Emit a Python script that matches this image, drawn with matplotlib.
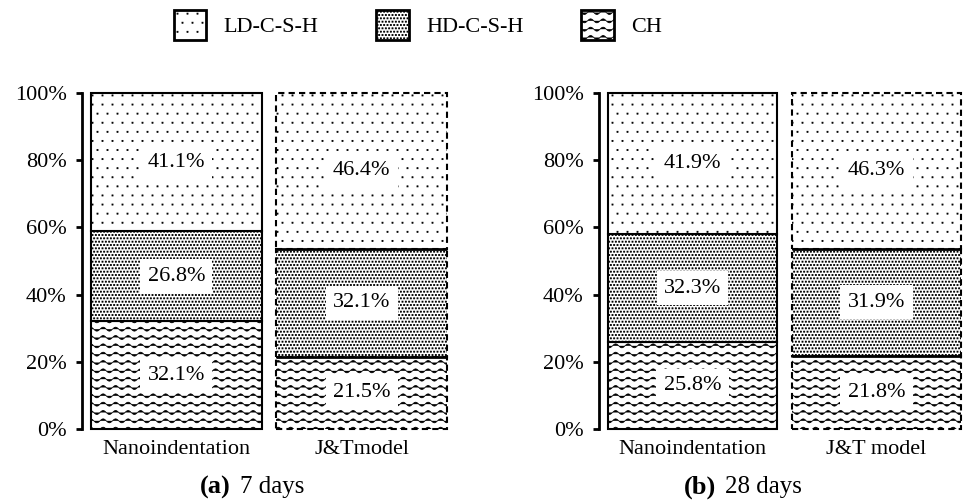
import warnings
import numpy as np
import matplotlib
matplotlib.use('Agg')
import matplotlib.pyplot as plt
import matplotlib.hatch as mhatch
from matplotlib.path import Path
from matplotlib.patches import Patch

warnings.filterwarnings('ignore')

# data (percent of each phase)
phases = ['LD-C-S-H', 'HD-C-S-H', 'CH']
labels_a = ['Nanoindentation', 'J&Tmodel']
labels_b = ['Nanoindentation', 'J&T model']
ch_7 = [32.1, 21.5]
hd_7 = [26.8, 32.1]
ld_7 = [41.1, 46.4]
ch_28 = [25.8, 21.8]
hd_28 = [32.3, 31.9]
ld_28 = [41.9, 46.3]
yticks = [0, 20, 40, 60, 80, 100]
ytick_labels = ['0%', '20%', '40%', '60%', '80%', '100%']

hatch_ld = ':'
hatch_hd = ';'
hatch_ch = '~~'


# custom hatches: sparse dots, dense dots, waves
class DotHatch(mhatch.HatchPatternBase):
    char = ':'
    rows = 11
    cols = 10
    size = 0.011

    def __init__(self, hatch, density):
        self.on = hatch.count(self.char) > 0
        self.num_vertices = self.rows * self.cols * 5 if self.on else 0

    def set_vertices_and_codes(self, vertices, codes):
        s = self.size / 2
        k = 0
        for i in range(self.rows):
            y = (i + 0.5) / self.rows
            for j in range(self.cols):
                x = (j + 0.25 + 0.5 * (i % 2)) / self.cols
                vertices[k:k + 5] = [[x - s, y - s], [x + s, y - s], [x + s, y + s],
                                     [x - s, y + s], [x - s, y - s]]
                codes[k] = Path.MOVETO
                codes[k + 1:k + 4] = Path.LINETO
                codes[k + 4] = Path.CLOSEPOLY
                k += 5


class DenseDotHatch(DotHatch):
    char = ';'
    rows = 30
    cols = 30
    size = 0.011


class WaveHatch(mhatch.HatchPatternBase):
    def __init__(self, hatch, density):
        self.num_rows = hatch.count('~') * density
        self.steps = 96
        self.num_vertices = self.num_rows * (self.steps + 1)

    def set_vertices_and_codes(self, vertices, codes):
        t = np.linspace(0, 1, self.steps + 1)
        w = 0.02 * np.sin(2 * np.pi * 8 * t)
        k = 0
        n = self.steps + 1
        for i in range(self.num_rows):
            vertices[k:k + n, 0] = t
            vertices[k:k + n, 1] = (i + 0.5) / self.num_rows + w
            codes[k] = Path.MOVETO
            codes[k + 1:k + n] = Path.LINETO
            k += n


mhatch._hatch_types.extend([DotHatch, DenseDotHatch, WaveHatch])

plt.rcParams['font.family'] = ['Liberation Serif', 'DejaVu Serif']
plt.rcParams['hatch.linewidth'] = 0.55

fig = plt.figure(figsize=(9.66, 5), dpi=100)
ax1 = fig.add_axes([82 / 966, 71 / 500, 367 / 966, 336 / 500])
ax2 = fig.add_axes([599 / 966, 71 / 500, 364 / 966, 336 / 500])


def panel(ax, ch, hd, ld, labels):
    x = np.arange(len(labels))
    w = 0.92
    bottoms = np.zeros(len(labels))
    for vals, h in zip([ch, hd, ld], [hatch_ch, hatch_hd, hatch_ld]):
        vals = np.array(vals)
        bars = ax.bar(x, vals, w, bottom=bottoms, color='white', edgecolor='black',
                      hatch=h, linewidth=1.5, clip_on=False)
        bars[1].set_linestyle((0, (3, 2)))
        for xi, v, b in zip(x, vals, bottoms):
            ax.text(xi, b + v / 2, f'{v:.1f}%', ha='center', va='center', fontsize=16,
                    bbox=dict(boxstyle='square,pad=0.33', fc='white', ec='none'))
        bottoms = bottoms + vals
    # the joins inside the model bar are solid
    ax.hlines(np.cumsum([ch[1], hd[1]]), x[1] - w / 2, x[1] + w / 2,
              colors='black', linewidth=2, zorder=2)
    ax.set_xlim(-0.508, 1.47)
    ax.set_ylim(0, 100)
    ax.set_xticks(x)
    ax.set_xticklabels(labels)
    ax.set_yticks(yticks)
    ax.set_yticklabels(ytick_labels)
    for s in ['top', 'right', 'bottom']:
        ax.spines[s].set_visible(False)
    ax.spines['left'].set_linewidth(2)
    ax.tick_params(axis='y', direction='out', length=4, width=2, pad=7, labelsize=16)
    ax.tick_params(axis='x', length=0, pad=8, labelsize=16)


panel(ax1, ch_7, hd_7, ld_7, labels_a)
panel(ax2, ch_28, hd_28, ld_28, labels_b)

handles = [Patch(facecolor='white', edgecolor='black', linewidth=2, hatch=h, label=p)
           for p, h in zip(phases, [hatch_ld, hatch_hd, hatch_ch])]
fig.legend(handles=handles, loc='center', bbox_to_anchor=(418 / 966, 0.95), ncol=3,
           frameon=False, fontsize=16, handlelength=1.45, handleheight=1.75,
           handletextpad=0.8, columnspacing=2.6)

fig.text(231 / 966, 0.026, '(a)', ha='right', va='center', fontsize=19, fontweight='bold')
fig.text(240 / 966, 0.026, '7 days', ha='left', va='center', fontsize=18)
fig.text(716 / 966, 0.026, '(b)', ha='right', va='center', fontsize=19, fontweight='bold')
fig.text(725 / 966, 0.026, '28 days', ha='left', va='center', fontsize=18)

fig.savefig('out.png', dpi=100)
